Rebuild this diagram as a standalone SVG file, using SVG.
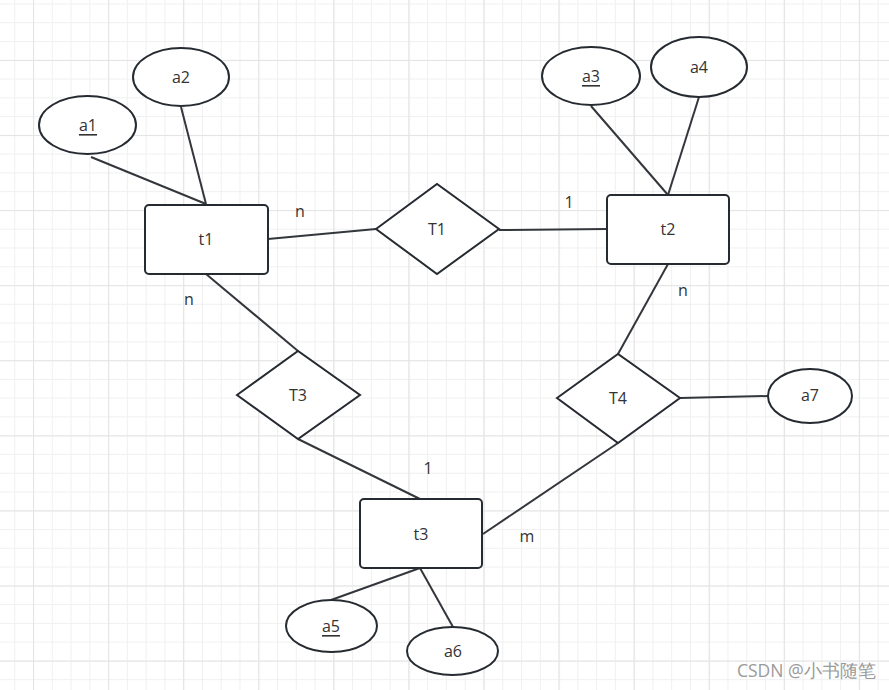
<svg xmlns="http://www.w3.org/2000/svg" width="889" height="690" viewBox="0 0 889 690">
<style>
.s{fill:#fff;stroke:#262b31;stroke-width:2}
.c line{stroke:#33373c;stroke-width:2}
text{font-family:"Open Sans","Noto Sans","Liberation Sans",sans-serif;font-size:16px;fill:#333;text-anchor:middle;dominant-baseline:central}
.u{text-decoration:underline}
.wm{font-size:17.5px;fill:#9a9a9a;text-anchor:start}
</style>
<defs>
<pattern id="minor" patternUnits="userSpaceOnUse" x="14.23" y="3.46" width="18.77" height="18.77">
<path d="M0.5 0V18.77M0 0.5H18.77" stroke="#f0f0f0" stroke-width="1" fill="none"/>
</pattern>
<pattern id="major" patternUnits="userSpaceOnUse" x="33" y="60" width="75.08" height="75.08">
<path d="M0.5 0V75.08M0 0.5H75.08" stroke="#e4e4e4" stroke-width="1.2" fill="none"/>
</pattern>
</defs>
<rect width="889" height="690" fill="#fff"/>
<rect width="889" height="690" fill="url(#minor)"/>
<rect width="889" height="690" fill="url(#major)"/>
<g class="c" id="connectors">
<line x1="91" y1="157" x2="206" y2="204"/>
<line x1="181" y1="107" x2="206" y2="204"/>
<line x1="268" y1="239" x2="376" y2="229"/>
<line x1="499" y1="230" x2="607" y2="229"/>
<line x1="591" y1="106" x2="668" y2="195"/>
<line x1="699" y1="97" x2="668" y2="195"/>
<line x1="206" y1="274" x2="298" y2="351"/>
<line x1="298" y1="439" x2="420" y2="499"/>
<line x1="668" y1="264" x2="618" y2="354"/>
<line x1="618" y1="443" x2="483" y2="534"/>
<line x1="680" y1="398" x2="768" y2="396"/>
<line x1="420" y1="568" x2="331" y2="600"/>
<line x1="420" y1="568" x2="453" y2="627"/>
</g>
<g id="t1"><rect class="s" x="145" y="205" width="123" height="69" rx="4"/><text x="206" y="239">t1</text></g>
<g id="t2"><rect class="s" x="607" y="195" width="122" height="69" rx="4"/><text x="668" y="229">t2</text></g>
<g id="t3"><rect class="s" x="360" y="499" width="122" height="69" rx="4"/><text x="421" y="534">t3</text></g>
<g id="T1"><polygon class="s" points="376,229 437,184 499,229 437,274"/><text x="437" y="229">T1</text></g>
<g id="T3"><polygon class="s" points="237,395 298,351 360,395 298,439"/><text x="298" y="395">T3</text></g>
<g id="T4"><polygon class="s" points="557,398 618,354 680,398 618,443"/><text x="618" y="398">T4</text></g>
<g id="a1"><ellipse class="s" cx="87.5" cy="125" rx="48.5" ry="29"/><text class="u" x="88" y="125">a1</text></g>
<g id="a2"><ellipse class="s" cx="181" cy="77" rx="48" ry="29"/><text x="181" y="77">a2</text></g>
<g id="a3"><ellipse class="s" cx="591" cy="76" rx="49" ry="29"/><text class="u" x="591" y="76">a3</text></g>
<g id="a4"><ellipse class="s" cx="699" cy="67" rx="48" ry="30"/><text x="699" y="67">a4</text></g>
<g id="a5"><ellipse class="s" cx="331.5" cy="626" rx="45.5" ry="26"/><text class="u" x="331" y="626">a5</text></g>
<g id="a6"><ellipse class="s" cx="452.5" cy="651" rx="45.5" ry="24"/><text x="453" y="651">a6</text></g>
<g id="a7"><ellipse class="s" cx="810" cy="396" rx="42" ry="27"/><text x="810" y="395">a7</text></g>
<g id="labels">
<text x="300" y="211">n</text>
<text x="569" y="202">1</text>
<text x="189" y="299">n</text>
<text x="683" y="290">n</text>
<text x="428" y="468">1</text>
<text x="527" y="536">m</text>
</g>
<text class="wm" x="737" y="670" font-family="'Liberation Sans','Noto Sans CJK SC',sans-serif">CSDN @小书随笔</text>
</svg>
